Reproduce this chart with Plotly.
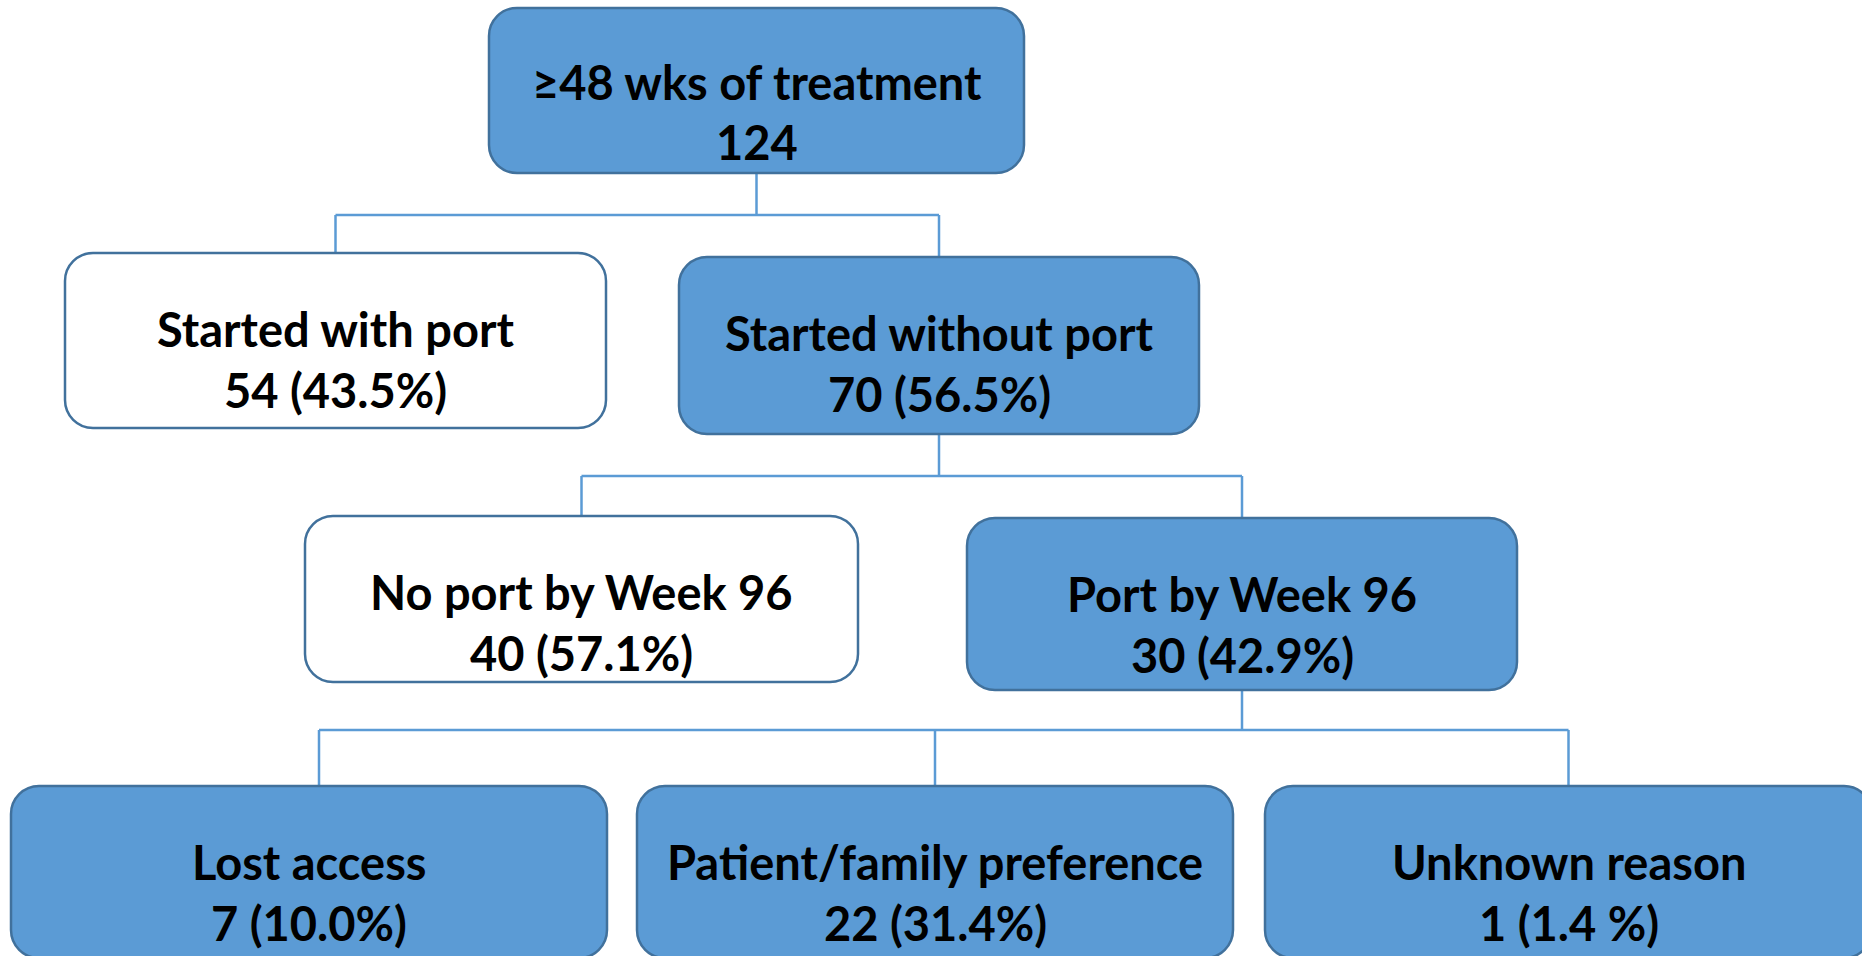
import plotly.graph_objects as go

# ---------------- data ----------------
node_titles = ["≥48 wks of treatment", "Started with port", "Started without port",
               "No port by Week 96", "Port by Week 96", "Lost access",
               "Patient/family preference", "Unknown reason"]
node_counts = [124, 54, 70, 40, 30, 7, 22, 1]
node_pcts = ["", "43.5%", "56.5%", "57.1%", "42.9%", "10.0%", "31.4%", "1.4 %"]
node_parent = [None, 0, 0, 2, 2, 4, 4, 4]
node_highlight = [True, False, True, False, True, True, True, True]

# ---------------- layout (pixel geometry) ----------------
W, H = 1862, 956
boxes = {
    0: (489, 1024, 8, 173),
    1: (65, 606, 253, 428),
    2: (679, 1199, 257, 434),
    3: (305, 858, 516, 682),
    4: (967, 1517, 518, 690),
    5: (11, 607, 786, 958),
    6: (637, 1233, 786, 958),
    7: (1265, 1872, 786, 958),
}
bus_y = {0: 215, 2: 476, 4: 730}
drop_x_override = {5: 319}
RADIUS = 28
TEXT_OFF = (76, 137)
text_off_override = {0: (74, 134)}

FILL = "#5B9BD5"
BORDER = "#41719C"
CONNECT = "#5B9BD5"
FONT = dict(family="Lato, Carlito, 'Open Sans', sans-serif", size=47, color="black", weight="bold")


def rounded_path(x0, x1, y0, y1, r):
    k = 0.5523 * r
    return (f"M {x0 + r},{y0} L {x1 - r},{y0} "
            f"C {x1 - r + k},{y0} {x1},{y0 + r - k} {x1},{y0 + r} "
            f"L {x1},{y1 - r} "
            f"C {x1},{y1 - r + k} {x1 - r + k},{y1} {x1 - r},{y1} "
            f"L {x0 + r},{y1} "
            f"C {x0 + r - k},{y1} {x0},{y1 - r + k} {x0},{y1 - r} "
            f"L {x0},{y0 + r} "
            f"C {x0},{y0 + r - k} {x0 + r - k},{y0} {x0 + r},{y0} Z")


def center_x(i):
    x0, x1, _, _ = boxes[i]
    return (x0 + x1) / 2


shapes = []
# connectors
for p, by in bus_y.items():
    children = [i for i, par in enumerate(node_parent) if par == p]
    px = center_x(p)
    pbot = boxes[p][3]
    shapes.append(dict(type="line", x0=px, x1=px, y0=pbot, y1=by, xref="x", yref="y",
                       line=dict(color=CONNECT, width=2.5), layer="below"))
    cxs = [drop_x_override.get(c, center_x(c)) for c in children]
    shapes.append(dict(type="line", x0=min(cxs), x1=max(cxs), y0=by, y1=by, xref="x", yref="y",
                       line=dict(color=CONNECT, width=2.5), layer="below"))
    for c, cx in zip(children, cxs):
        shapes.append(dict(type="line", x0=cx, x1=cx, y0=by, y1=boxes[c][2], xref="x", yref="y",
                           line=dict(color=CONNECT, width=2.5), layer="below"))

annotations = []
for i, title in enumerate(node_titles):
    x0, x1, y0, y1 = boxes[i]
    shapes.append(dict(type="path", path=rounded_path(x0, x1, y0, y1, RADIUS), xref="x", yref="y",
                       fillcolor=FILL if node_highlight[i] else "white",
                       line=dict(color=BORDER, width=2.5), layer="above"))
    cx = (x0 + x1) / 2
    o1, o2 = text_off_override.get(i, TEXT_OFF)
    line2 = f"{node_counts[i]} ({node_pcts[i]})" if node_pcts[i] else f"{node_counts[i]}"
    annotations.append(dict(x=cx, y=y0 + o1, text=title, showarrow=False,
                            xanchor="center", yanchor="middle", font=FONT, xref="x", yref="y"))
    annotations.append(dict(x=cx, y=y0 + o2, text=line2, showarrow=False,
                            xanchor="center", yanchor="middle", font=FONT, xref="x", yref="y"))

fig = go.Figure()
fig.update_layout(
    width=W, height=H,
    margin=dict(l=0, r=0, t=0, b=0),
    paper_bgcolor="white", plot_bgcolor="white",
    xaxis=dict(range=[0, W], visible=False, fixedrange=True),
    yaxis=dict(range=[H, 0], visible=False, fixedrange=True),
    shapes=shapes, annotations=annotations,
    showlegend=False,
)
fig.write_html("out.html", config={"displayModeBar": False},
               post_script="document.body.style.margin='0';")
